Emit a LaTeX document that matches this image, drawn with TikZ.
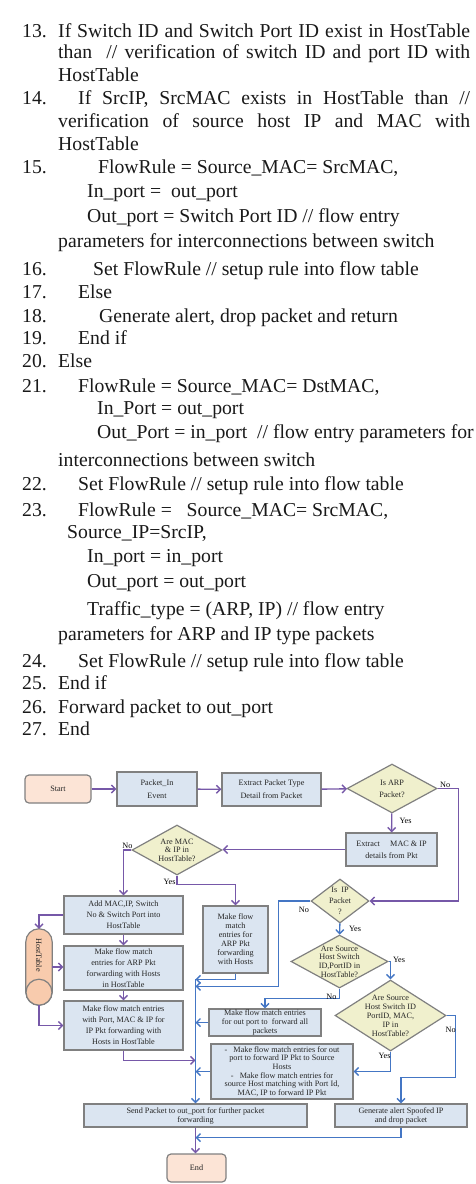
\documentclass[tikz,border=0pt]{standalone}
\usepackage{fontspec}
\setmainfont{Liberation Serif}
\usetikzlibrary{positioning, arrows.meta, calc, shapes.geometric}

\definecolor{flowpurple}{RGB}{118,88,168}
\definecolor{flowblue}{RGB}{68,118,196}
\definecolor{boxfill}{RGB}{219,229,241}
\definecolor{boxline}{RGB}{128,128,128}
\definecolor{decfill}{RGB}{240,240,205}
\definecolor{termfill}{RGB}{252,228,214}
\definecolor{htfill}{RGB}{248,203,173}

\tikzset{
 listtxt/.style={anchor=base west, inner sep=0pt, font=\fontsize{19.7}{23}\selectfont, text=black!90},
 flow/.style={draw=boxline, line width=1.2pt, inner sep=0pt, align=center, text=black!85},
 proc/.style={flow, rectangle, fill=boxfill},
 term/.style={flow, rectangle, rounded corners=4pt, fill=termfill},
 decision/.style={flow, diamond, fill=decfill},
 fsize/.style={font=\fontsize{8.2}{#1}\selectfont},
 dlabel/.style={align=center, inner sep=0pt, text=black!85},
 lbl/.style={inner sep=0pt, font=\fontsize{8.2}{9}\selectfont},
 drum/.style={draw=boxline, line width=1.2pt, fill=htfill},
 parrow/.style={draw=flowpurple, line width=1.4pt, -{Straight Barb[length=4pt,width=8pt]}},
 barrow/.style={draw=flowblue, line width=1.4pt, -{Straight Barb[length=4pt,width=8pt]}},
}

\begin{document}
\begin{tikzpicture}[x=1pt, y=-1pt]
 \useasboundingbox (0,0) rectangle (475,1184);

 % listing, steps 13 to 27
 \foreach \nr/\yy in {13/37, 14/104, 15/173, 16/275, 17/298, 18/322, 19/344,
 20/367, 21/392, 22/490, 23/516, 24/667, 25/689, 26/713, 27/735}
 \node[listtxt] (num\nr) at (22,\yy) {\nr.};
 \foreach \xx/\yy/\tx [count=\i] in {
 58/37/{\makebox[412pt][s]{If Switch ID and Switch Port ID exist in HostTable}},
 58/58/{\makebox[412pt][s]{than\ \ // verification of switch ID and port ID with}},
 58/81/{HostTable},
 78/104/{\makebox[392pt][s]{If SrcIP, SrcMAC exists in HostTable than //}},
 58/127/{\makebox[412pt][s]{verification of source host IP and MAC with}},
 58/150/{HostTable},
 98/173/{FlowRule = Source\_MAC= SrcMAC,},
 87/197/{In\_port =\ \ out\_port},
 87/222/{Out\_port = Switch Port ID // flow entry},
 58/247/{parameters for interconnections between switch},
 93/275/{Set FlowRule // setup rule into flow table},
 78/298/{Else},
 99/322/{Generate alert, drop packet and return},
 78/344/{End if},
 58/367/{Else},
 78/392/{FlowRule = Source\_MAC= DstMAC,},
 97/414/{In\_Port = out\_port},
 97/438/{Out\_Port = in\_port\ \ // flow entry parameters for},
 58/466/{interconnections between switch},
 78/490/{Set FlowRule // setup rule into flow table},
 78/516/{FlowRule =\ \ \ Source\_MAC= SrcMAC,},
 67/538/{Source\_IP=SrcIP,},
 87/562/{In\_port = in\_port},
 87/587/{Out\_port = out\_port},
 87/615/{Traffic\_type = (ARP, IP) // flow entry},
 58/640/{parameters for ARP and IP type packets},
 78/667/{Set FlowRule // setup rule into flow table},
 58/689/{End if},
 58/713/{Forward packet to out\_port},
 58/735/{End}}
 \node[listtxt] (line\i) at (\xx,\yy) {\tx};

 % flowchart
 \node[term, fsize=10, minimum width=66, minimum height=28] (start) at (58,789) {Start};
 \node[proc, fsize=13, minimum width=80, minimum height=34] (pktin) at (157,789) {Packet\_In\\Event};
 \node[proc, fsize=13, minimum width=99, minimum height=33] (extract) at (271.5,789.5) {Extract Packet Type\\Detail from Packet};
 \node[decision, minimum width=90, minimum height=49,
 label={[dlabel, fsize=12]center:Is ARP\\Packet?}] (arp) at (392,788.5) {};
 \node[proc, fsize=12, minimum width=91, minimum height=33] (extmac) at (391.5,849.5) {Extract\quad\ MAC \& IP\\details from Pkt};
 \node[decision, minimum width=90, minimum height=50,
 label={[dlabel, fsize=8.5]center:Are MAC\\\& IP in\\HostTable?}] (aremac) at (177,850) {};
 \node[proc, fsize=11, minimum width=119, minimum height=38] (addmac) at (123.5,915) {Add MAC,IP, Switch\\No \& Switch Port into\\HostTable};
 \node[proc, fsize=11, minimum width=119, minimum height=44] (arpflow) at (123.5,968) {Make flow match\\entries for ARP Pkt\\forwarding with Hosts\\in HostTable};
 \node[proc, fsize=11, minimum width=119, minimum height=49] (ipflow) at (123.5,1025.5) {Make flow match entries\\with Port, MAC \& IP for\\IP Pkt forwarding with\\Hosts in HostTable};
 % host table drum
 \node[minimum width=26, minimum height=76, inner sep=0pt] (ht) at (39,967) {};
 \draw[drum, rounded corners=13pt] (ht.north west) rectangle (ht.south east);
 \draw[drum] ($(ht.south)+(0,-13)$) circle[radius=13pt];
 \node[rotate=-90, inner sep=0pt, fsize=9, text=black!85] (httext) at ($(ht.center)+(0,-12)$) {HostTable};
 \node[proc, fsize=9, minimum width=65, minimum height=67] (arpfwd) at (235.5,939.5) {Make flow\\match\\entries for\\ARP Pkt\\forwarding\\with Hosts};
 \node[decision, minimum width=58, minimum height=44,
 label={[dlabel, fsize=11]center:Is\ \ IP\\Packet\\?}] (isip) at (340,901) {};
 \node[decision, minimum width=97, minimum height=53,
 label={[dlabel, fsize=8.7]center:Are Source\\Host Switch\\ID,PortID in\\HostTable?}] (src1) at (339.5,961.5) {};
 \node[decision, minimum width=111, minimum height=71,
 label={[dlabel, fsize=9]center:Are Source\\Host Switch ID\\PortID, MAC,\\IP in\\HostTable?}] (src2) at (390.5,1015.5) {};
 \node[proc, fsize=9, minimum width=112, minimum height=27] (outall) at (265,1022.5) {Make flow match entries\\for out port to\ \ forward all\\packets};
 \node[proc, fsize=8.7, minimum width=142, minimum height=55] (ipfwd) at (282,1071.5) {-\ \ \ Make flow match entries for out\\port to forward IP Pkt to Source\\Hosts\\-\ \ \ Make flow match entries for\\source Host matching with Port Id,\\MAC, IP to forward IP Pkt};
 \node[proc, fsize=9, minimum width=223, minimum height=23] (send) at (195.5,1115.5) {Send Packet to out\_port for further packet\\forwarding};
 \node[proc, fsize=9, minimum width=132, minimum height=23] (alert) at (401,1115.5) {Generate alert Spoofed IP\\and drop packet};
 \node[term, fsize=10, minimum width=59, minimum height=28] (finish) at (196.5,1168) {End};

 % joins on the collecting line
 \coordinate (bustop) at ($(send.north)+(0,-124)$);
 \coordinate (busno) at ($(send.north)+(0,-117)$);
 \coordinate (busip) at ($(send.north)+(0,-43)$);
 \coordinate (endjoin) at ($(send.south)+(0,10)$);

 % purple connectors
 \draw[parrow] (start) -- (pktin);
 \draw[parrow] (pktin) -- (extract);
 \draw[parrow] (extract) -- (arp);
 \draw[parrow] (arp) -- (extmac);
 \draw[parrow] (arp.east) -- ++(21,0) |- (isip.east);
 \draw[parrow] (extmac.west) -- (extmac.west -| aremac.east);
 \draw[parrow] (aremac.west) -| (addmac.north);
 \draw[parrow] (aremac.south) -- ++(0,9) -| (arpfwd.north);
 \draw[parrow] (addmac) -- (arpflow);
 \draw[parrow] (arpflow) -- (ipflow);
 \draw[parrow] (addmac.west) -| (ht.north);
 \draw[parrow] (ht.east) -- (ht.east -| arpflow.west);
 \draw[parrow] (ht.south) |- (ipflow.west);
 \draw[parrow] (ipflow.south) |- (busip);
 \draw[parrow] (send.south) -- (send.south |- finish.north);

 % blue connectors
 \draw[barrow] (isip) -- (src1);
 \draw[barrow] (src1.east) -| (src2.north);
 \draw[barrow] (src1.south) -- ++(0,10) -| (outall.north);
 \draw[barrow] (src2.south) |- (ipfwd.east);
 \draw[barrow] (src2.east) -- ++(9,0) -- ++(0,62) -| (alert.north);
 \draw[barrow] (isip.west) -- ++(-32,0) |- (busno);
 \draw[barrow] (arpfwd.south) |- (bustop);
 \draw[barrow] (outall.west) -- (outall.west -| send.north);
 \draw[barrow] (ipfwd.west) -- (ipfwd.west -| send.north);
 \draw[barrow] (bustop) -- (send.north);
 \draw[barrow] (alert.south) |- (endjoin);

 % yes / no
 \node[lbl] (arpno) at ($(arp.east)+(7.5,-3.5)$) {No};
 \node[lbl] (arpyes) at ($(arp.south)+(13.5,7)$) {Yes};
 \node[lbl] (macno) at ($(aremac.west)+(-4,-4)$) {No};
 \node[lbl] (macyes) at ($(aremac.south)+(-7.5,6)$) {Yes};
 \node[lbl] (ipno) at ($(isip.west)+(-6.5,9)$) {No};
 \node[lbl] (ipyes) at ($(isip.south)+(15,5)$) {Yes};
 \node[lbl] (srcyes) at ($(src1.east)+(10.5,-1.5)$) {Yes};
 \node[lbl] (srcno) at ($(src1.south)+(-8,8)$) {No};
 \node[lbl] (spoofno) at ($(src2.east)+(4,14.5)$) {No};
 \node[lbl] (spoofyes) at ($(src2.south)+(-6,4)$) {Yes};
\end{tikzpicture}
\end{document}
